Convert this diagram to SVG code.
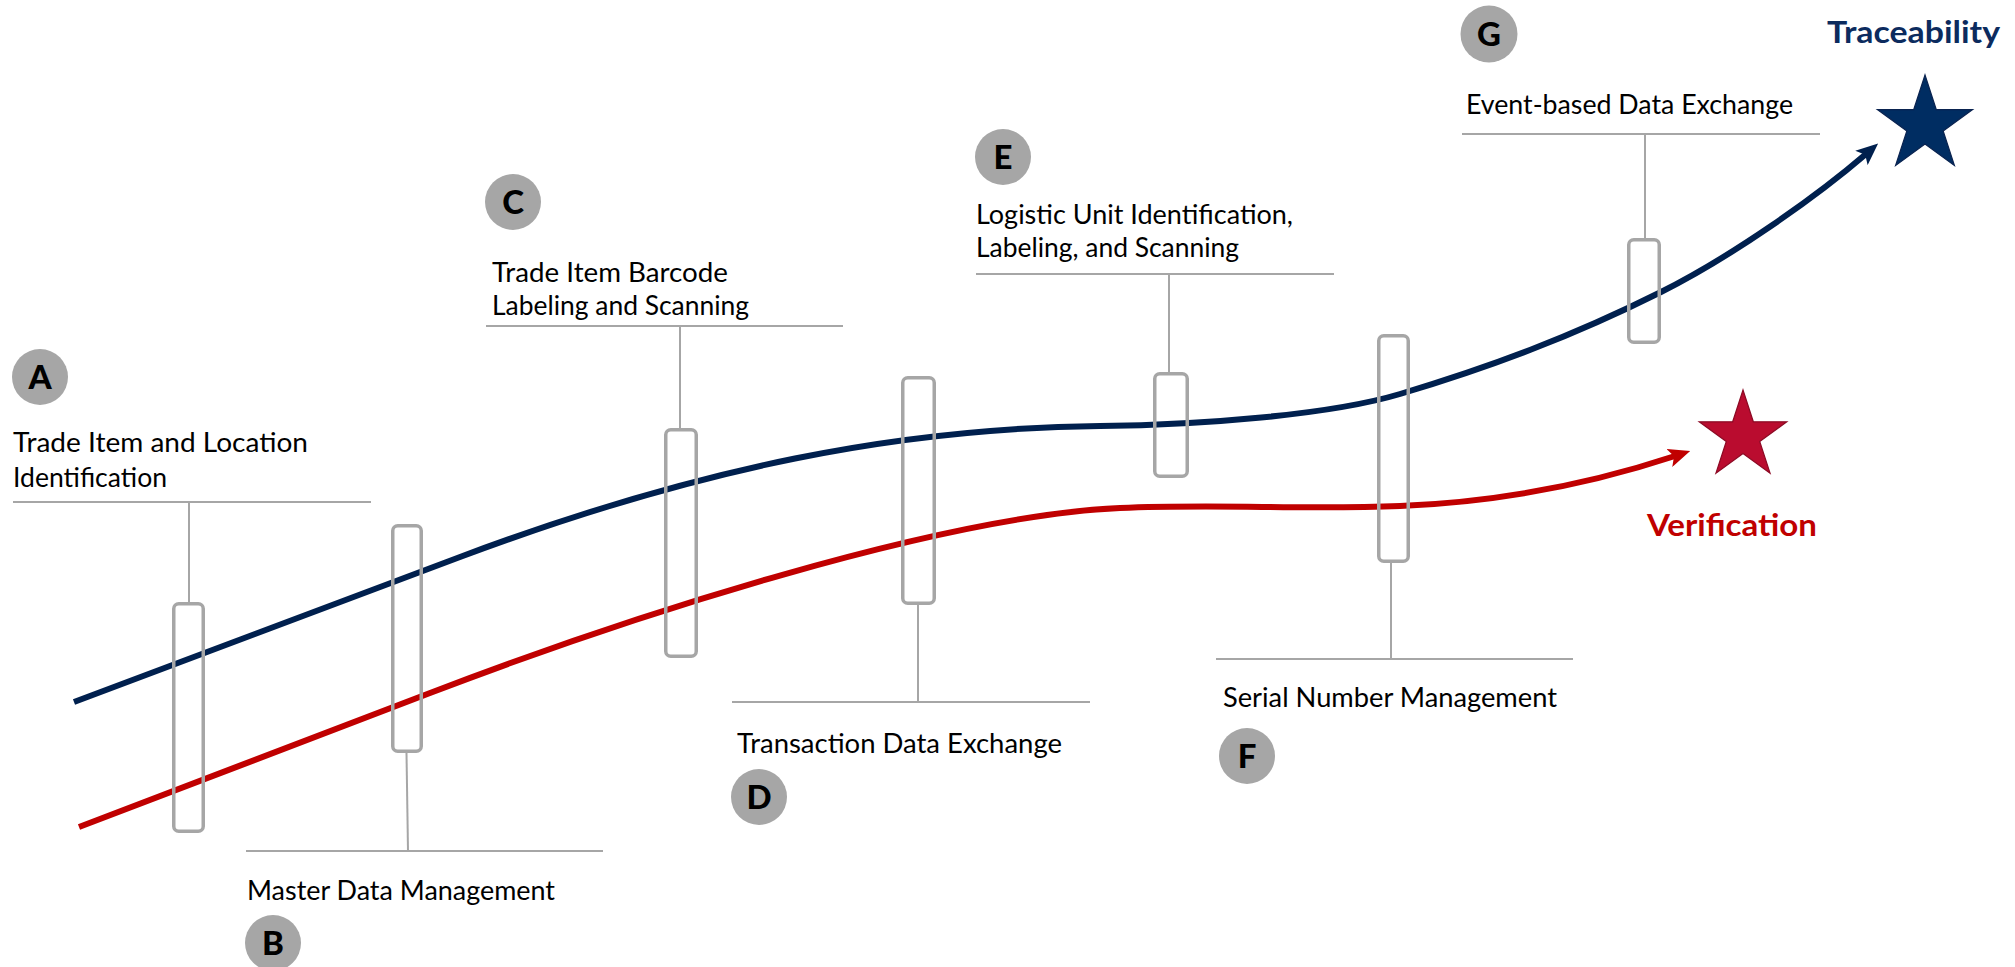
<svg xmlns="http://www.w3.org/2000/svg" width="2015" height="967" viewBox="0 0 2015 967">
  <style>
    .lbl { font-family: Lato, "Open Sans", "Liberation Sans", sans-serif; font-size: 26px; fill: #000; }
    .ltr { font-family: Lato, "Liberation Sans", sans-serif; font-weight: 900; font-size: 33px; fill: #000; text-anchor: middle; }
    .badge { fill: #A6A6A6; }
    .box { fill: none; stroke: #A6A6A6; stroke-width: 3.5; }
    .lead { fill: none; stroke: #A6A6A6; stroke-width: 2; }
    .navy { fill: none; stroke: #00204E; stroke-width: 6; }
    .red { fill: none; stroke: #C00000; stroke-width: 6; }
    .goal { font-family: Lato, "Liberation Sans", sans-serif; font-weight: 700; font-size: 30px; }
  </style>
  <defs>
    <marker id="arrNavy" viewBox="0 0 22 19" markerWidth="22" markerHeight="19" refX="6" refY="9.5" orient="auto" markerUnits="userSpaceOnUse">
      <path d="M0,0 L22,9.5 L0,19 L5,9.5 z" fill="#00204E"/>
    </marker>
    <marker id="arrRed" viewBox="0 0 22 19" markerWidth="22" markerHeight="19" refX="6" refY="9.5" orient="auto" markerUnits="userSpaceOnUse">
      <path d="M0,0 L22,9.5 L0,19 L5,9.5 z" fill="#C00000"/>
    </marker>
    <polygon id="star" points="0,-50 11.23,-15.45 47.55,-15.45 18.17,5.9 29.39,40.45 0,19.1 -29.39,40.45 -18.17,5.9 -47.55,-15.45 -11.23,-15.45"/>
  </defs>

  <rect width="2015" height="967" fill="#ffffff"/>

  <g id="connectors">
    <path id="traceability-curve" class="navy" marker-end="url(#arrNavy)"
      d="M74,702 L460,557 C700,467 900,428 1100,426 C1200,425 1330,415 1400,394 C1490,367 1571,337 1661,292 C1731,257 1816,197 1866,154"/>
    <path id="verification-curve" class="red" marker-end="url(#arrRed)"
      d="M79,827 L430,693 C630,616.4 940,516 1120,508 C1220,503.6 1300,510 1400,506 C1500,502 1595,482.4 1675,456"/>
  </g>

  <g id="node-A">
    <line class="lead" x1="13" y1="502" x2="371" y2="502"/>
    <line class="lead" x1="189" y1="502" x2="189" y2="603"/>
    <rect class="box" x="173.75" y="603.75" width="29.5" height="227.5" rx="5"/>
    <circle class="badge" cx="40" cy="377" r="28"/>
    <text class="ltr" x="40" y="389">A</text>
    <text class="lbl" x="13" y="451.5" textLength="295" lengthAdjust="spacingAndGlyphs">Trade Item and Location</text>
    <text class="lbl" x="13" y="487" textLength="154" lengthAdjust="spacingAndGlyphs">Identification</text>
  </g>

  <g id="node-B">
    <line class="lead" x1="246" y1="851" x2="603" y2="851"/>
    <line class="lead" x1="406.5" y1="753" x2="408" y2="851"/>
    <rect class="box" x="392.75" y="525.75" width="28.5" height="225.5" rx="5"/>
    <text class="lbl" x="247" y="900" textLength="308" lengthAdjust="spacingAndGlyphs">Master Data Management</text>
    <circle class="badge" cx="273" cy="943" r="28"/>
    <text class="ltr" x="273" y="955">B</text>
  </g>

  <g id="node-C">
    <circle class="badge" cx="513" cy="202" r="28"/>
    <text class="ltr" x="513" y="214">C</text>
    <text class="lbl" x="492" y="282" textLength="236" lengthAdjust="spacingAndGlyphs">Trade Item Barcode</text>
    <text class="lbl" x="492" y="315" textLength="257" lengthAdjust="spacingAndGlyphs">Labeling and Scanning</text>
    <line class="lead" x1="486" y1="326" x2="843" y2="326"/>
    <line class="lead" x1="680" y1="326" x2="680" y2="429"/>
    <rect class="box" x="665.75" y="429.75" width="30.5" height="226.5" rx="5"/>
  </g>

  <g id="node-D">
    <rect class="box" x="902.75" y="377.75" width="31.5" height="225.5" rx="5"/>
    <line class="lead" x1="918" y1="605" x2="918" y2="702"/>
    <line class="lead" x1="732" y1="702" x2="1090" y2="702"/>
    <text class="lbl" x="737" y="753" textLength="325" lengthAdjust="spacingAndGlyphs">Transaction Data Exchange</text>
    <circle class="badge" cx="759" cy="797" r="28"/>
    <text class="ltr" x="759" y="809">D</text>
  </g>

  <g id="node-E">
    <circle class="badge" cx="1003" cy="157" r="28"/>
    <text class="ltr" x="1003" y="169">E</text>
    <text class="lbl" x="976" y="224" textLength="317" lengthAdjust="spacingAndGlyphs">Logistic Unit Identification,</text>
    <text class="lbl" x="976" y="257" textLength="263" lengthAdjust="spacingAndGlyphs">Labeling, and Scanning</text>
    <line class="lead" x1="976" y1="274" x2="1334" y2="274"/>
    <line class="lead" x1="1169" y1="274" x2="1169" y2="373"/>
    <rect class="box" x="1154.75" y="373.75" width="32.5" height="102.5" rx="5"/>
  </g>

  <g id="node-F">
    <rect class="box" x="1378.75" y="335.75" width="29.5" height="225.5" rx="5"/>
    <line class="lead" x1="1391" y1="563" x2="1391" y2="659"/>
    <line class="lead" x1="1216" y1="659" x2="1573" y2="659"/>
    <text class="lbl" x="1223" y="707" textLength="334" lengthAdjust="spacingAndGlyphs">Serial Number Management</text>
    <circle class="badge" cx="1247" cy="756" r="28"/>
    <text class="ltr" x="1247" y="768">F</text>
  </g>

  <g id="node-G">
    <circle class="badge" cx="1489" cy="34" r="28.5"/>
    <text class="ltr" x="1489" y="46">G</text>
    <text class="lbl" x="1466" y="114" textLength="327" lengthAdjust="spacingAndGlyphs">Event-based Data Exchange</text>
    <line class="lead" x1="1462" y1="134" x2="1820" y2="134"/>
    <line class="lead" x1="1645" y1="134" x2="1645" y2="239"/>
    <rect class="box" x="1628.75" y="239.75" width="30.5" height="102.5" rx="5"/>
  </g>

  <g id="goal-traceability">
    <text class="goal" x="1827" y="43" fill="#0C2B5E" textLength="173" lengthAdjust="spacingAndGlyphs">Traceability</text>
    <use href="#star" transform="translate(1925,125)" fill="#002D62" stroke="#0A2350" stroke-width="1.2"/>
  </g>

  <g id="goal-verification">
    <use href="#star" transform="translate(1743,436) scale(0.92)" fill="#BA0C2F" stroke="#8C0A24" stroke-width="1.3"/>
    <text class="goal" x="1647" y="536" fill="#C00000" textLength="170" lengthAdjust="spacingAndGlyphs">Verification</text>
  </g>
</svg>
